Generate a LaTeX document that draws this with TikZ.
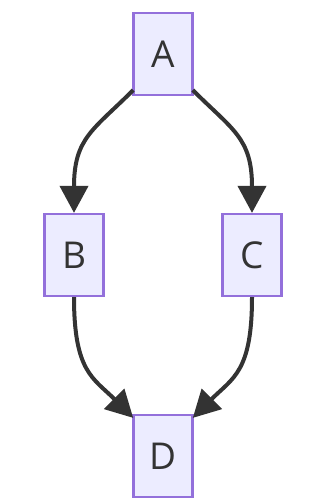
\documentclass[tikz,border=0pt]{standalone}
\usepackage{fontspec}
\setmainfont{Open Sans}
\usetikzlibrary{arrows.meta,positioning,calc}

\definecolor{boxFill}{HTML}{ECECFF}
\definecolor{boxLine}{HTML}{9370DB}
\definecolor{edgeLine}{HTML}{333333}

\begin{document}
\begin{tikzpicture}[
        x=1pt, y=1pt,
        stateNode/.style={
            draw=boxLine,
            fill=boxFill,
            line width=2.2pt,
            minimum width=59pt,
            minimum height=82pt,
            inner sep=0pt,
            text=edgeLine,
            font=\fontsize{37}{40}\selectfont
        },
        link/.style={
            -{Triangle[length=27pt, width=28pt]},
            line width=4pt,
            draw=edgeLine
        }
    ]

        \useasboundingbox (0,0) rectangle (314,502);

        % Nodes
        \node[stateNode] (A) at (163,448) {A};
        \node[stateNode] (B) at (74,247) {B};
        \node[stateNode] (C) at (252,247) {C};
        \node[stateNode] (D) at (163,46) {D};

        % Split from A
        \draw[link]
            ($(A.south west)+(0.8,6)$)
            .. controls +(-40,-40) and +(0,75) ..
            (B.north);
        \draw[link]
            ($(A.south east)+(-0.8,6)$)
            .. controls +(40,-40) and +(0,75) ..
            (C.north);

        % Join into D
        \draw[link]
            (B.south)
            .. controls +(0,-75) and +(-40,40) ..
            ($(D.north west)+(0.8,-4)$);
        \draw[link]
            (C.south)
            .. controls +(0,-75) and +(40,40) ..
            ($(D.north east)+(-0.8,-4)$);

    \end{tikzpicture}
\end{document}
